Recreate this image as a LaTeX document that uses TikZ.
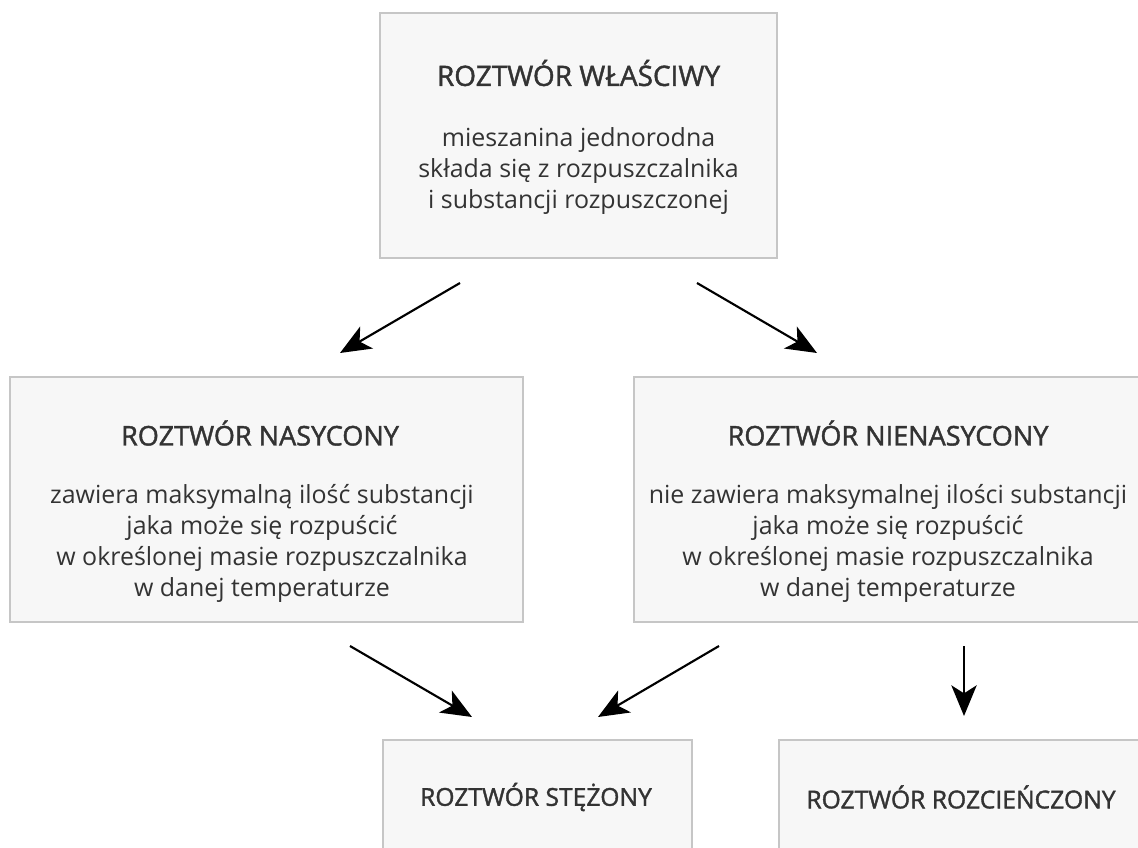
\documentclass[tikz,border=0pt]{standalone}
\usepackage{fontspec}
\setmainfont{Open Sans}
\newfontfamily\titlefont{Open Sans}[FakeBold=1.5]
\usetikzlibrary{arrows.meta}

\definecolor{boxfill}{HTML}{F7F7F7}
\definecolor{boxline}{HTML}{C6C6C6}
\definecolor{txtgray}{HTML}{333333}

\tikzset{every picture/.style={line width=0.75pt}}
\tikzset{
	solbox/.style={draw=boxline, fill=boxfill, line width=1.5pt, inner sep=0pt},
	soltitle/.style={inner sep=0pt, text=txtgray, font=\titlefont\fontsize{#1}{25}\selectfont},
	soltitle/.default=20.3,
	soltext/.style={inner sep=0pt, text=txtgray, align=center, font=\fontsize{18.7}{23.25}\selectfont},
	solarrow/.style={line width=1.6pt, -{Stealth[length=23pt,width=19pt,inset=6pt]}}
}

\begin{document}
\begin{tikzpicture}[x=0.75pt,y=0.75pt,yscale=-1,xscale=1]
	\useasboundingbox (0,0) rectangle (1138,848);
	\clip (0,0) rectangle (1138,848);
	
	%Shape: Rectangle [id:wlasciwy]
	\node[solbox, minimum width=397*0.75pt, minimum height=245*0.75pt] (wlasciwy) at (578.5,135.5) {};
	\node[soltitle=21] (wlasciwy-t) at (578.5,73) {ROZTWÓR WŁAŚCIWY};
	\node[soltext] (wlasciwy-b) at (578.5,171) {mieszanina jednorodna\\składa się z rozpuszczalnika\\i substancji rozpuszczonej};
	
	%Shape: Rectangle [id:nasycony]
	\node[solbox, minimum width=513*0.75pt, minimum height=245*0.75pt] (nasycony) at (266.5,499.5) {};
	\node[soltitle] (nasycony-t) at (260,433) {ROZTWÓR NASYCONY};
	\node[soltext] (nasycony-b) at (262,543.5) {zawiera maksymalną ilość substancji\\jaka może się rozpuścić\\w określonej masie rozpuszczalnika\\w danej temperaturze};
	
	%Shape: Rectangle [id:nienasycony]
	\node[solbox, minimum width=520*0.75pt, minimum height=245*0.75pt] (nienasycony) at (894,499.5) {};
	\node[soltitle] (nienasycony-t) at (888,433) {ROZTWÓR NIENASYCONY};
	\node[soltext] (nienasycony-b) at (888,543.5) {nie zawiera maksymalnej ilości substancji\\jaka może się rozpuścić\\w określonej masie rozpuszczalnika\\w danej temperaturze};
	
	%Shape: Rectangle [id:stezony]
	\node[solbox, minimum width=309*0.75pt, minimum height=160*0.75pt] (stezony) at (537.5,820) {};
	\node[soltitle=18.5] (stezony-t) at (536,797) {ROZTWÓR STĘŻONY};
	
	%Shape: Rectangle [id:rozcienczony]
	\node[solbox, minimum width=364*0.75pt, minimum height=160*0.75pt] (rozcienczony) at (961,820) {};
	\node[soltitle=18.5] (rozcienczony-t) at (961,797) {ROZTWÓR ROZCIEŃCZONY};
	
	%arrows
	\coordinate (a1s) at (460,283);
	\coordinate (a1e) at (340,353);
	\coordinate (a2s) at (697,283);
	\coordinate (a2e) at (817,353);
	\coordinate (a3s) at (350,646);
	\coordinate (a3e) at (472,717);
	\coordinate (a4s) at (719,646);
	\coordinate (a4e) at (598,717);
	\coordinate (a5s) at (964,646);
	\coordinate (a5e) at (964,716);
	\draw[solarrow] (a1s) -- (a1e);
	\draw[solarrow] (a2s) -- (a2e);
	\draw[solarrow] (a3s) -- (a3e);
	\draw[solarrow] (a4s) -- (a4e);
	\draw[solarrow] (a5s) -- (a5e);
	
\end{tikzpicture}
\end{document}
